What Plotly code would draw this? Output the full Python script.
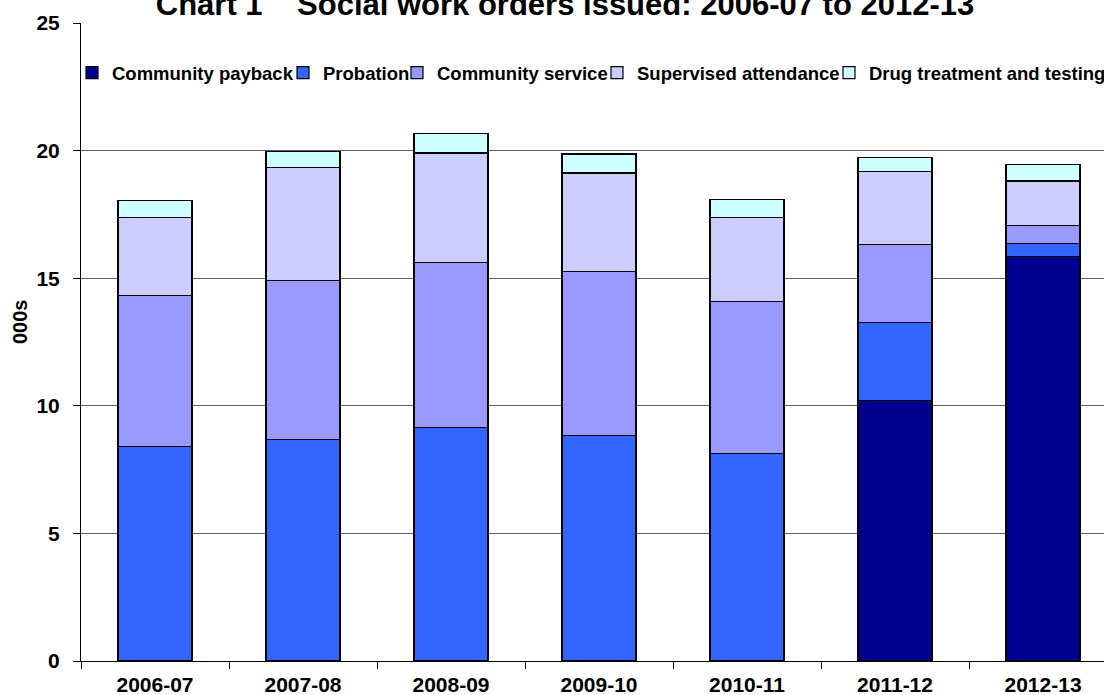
import plotly.graph_objects as go

years = ["2006-07", "2007-08", "2008-09", "2009-10", "2010-11", "2011-12", "2012-13"]
community_payback = [None, None, None, None, None, 10.21, 15.86]
probation = [8.39, 8.69, 9.16, 8.84, 8.13, 3.06, 0.49]
community_service = [5.94, 6.21, 6.45, 6.41, 5.95, 3.04, 0.71]
supervised_attendance = [3.05, 4.43, 4.30, 3.87, 3.30, 2.87, 1.75]
drug_treatment = [0.67, 0.62, 0.77, 0.75, 0.69, 0.56, 0.65]
y_ticks = [0, 5, 10, 15, 20, 25]

series_names = ["Community payback", "Probation", "Community service",
                "Supervised attendance", "Drug treatment and testing"]
series_values = [community_payback, probation, community_service,
                 supervised_attendance, drug_treatment]
series_colors = ["#000090", "#3366FF", "#9999FF", "#CCCCFF", "#CCFFFF"]
# pixel x where each legend entry's text starts
legend_text_x = [110, 321, 435, 635, 867]

FONT = "Liberation Sans, Arial, sans-serif"
W, H = 1104, 695
ML, MR, MT, MB = 81, 0, 23, 34
PW, PH = W - ML - MR, H - MT - MB

fig = go.Figure()
legend_layout = {}
for i, (name, vals, col) in enumerate(zip(series_names, series_values, series_colors)):
    lid = "legend" if i == 0 else "legend%d" % (i + 1)
    fig.add_trace(go.Bar(
        x=years, y=vals, name="<b>%s</b>" % name,
        marker=dict(color=col, line=dict(color="#000000", width=1.2)),
        width=0.5,
        legend=lid,
    ))
    legend_layout[lid] = dict(
        orientation="h",
        xref="container", x=(legend_text_x[i] - 38) / W, xanchor="left",
        yref="paper", y=0.9216, yanchor="middle",
        font=dict(family=FONT, size=18.5, color="#000000"),
        itemwidth=30,
        bgcolor="rgba(0,0,0,0)",
        borderwidth=0,
    )

fig.update_layout(
    barmode="stack",
    width=W, height=H,
    margin=dict(l=ML, r=MR, t=MT, b=MB, autoexpand=False),
    paper_bgcolor="white", plot_bgcolor="white",
    font=dict(family=FONT, color="#000000"),
    title=dict(
        text="<b>Chart 1\u00a0\u00a0\u00a0 Social work orders issued: 2006-07 to 2012-13</b>",
        font=dict(family=FONT, size=31, color="#000000"),
        x=565 / W, xanchor="center", xref="container",
        y=1 - 4 / H, yanchor="middle", yref="container",
    ),
    showlegend=True,
    annotations=[dict(
        text="<b>000s</b>", textangle=-90, showarrow=False,
        xref="paper", x=(20 - ML) / PW, xanchor="center",
        yref="paper", y=(H - MB - 322) / PH, yanchor="middle",
        font=dict(family=FONT, size=20, color="#000000"),
    )],
    **legend_layout,
)

fig.update_xaxes(
    type="category",
    range=[-0.5, 6.412],
    showline=True, linecolor="#000000", linewidth=1,
    ticks="outside", tickson="boundaries", ticklen=7, tickcolor="#000000",
    ticklabelstandoff=5,
    tickfont=dict(family=FONT, size=21, color="#000000"),
    tickprefix="<b>", ticksuffix="</b>",
    showgrid=False,
    fixedrange=True,
)

fig.update_yaxes(
    range=[0, 25],
    tickvals=y_ticks,
    ticktext=["<b>%d</b>" % v for v in y_ticks],
    showline=True, linecolor="#000000", linewidth=1,
    ticks="outside", ticklen=7, tickcolor="#000000",
    ticklabelstandoff=9,
    tickfont=dict(family=FONT, size=21, color="#000000"),
    showgrid=True, gridcolor="#606060", gridwidth=1,
    zeroline=False,
    fixedrange=True,
)

fig.write_html("out.html")
